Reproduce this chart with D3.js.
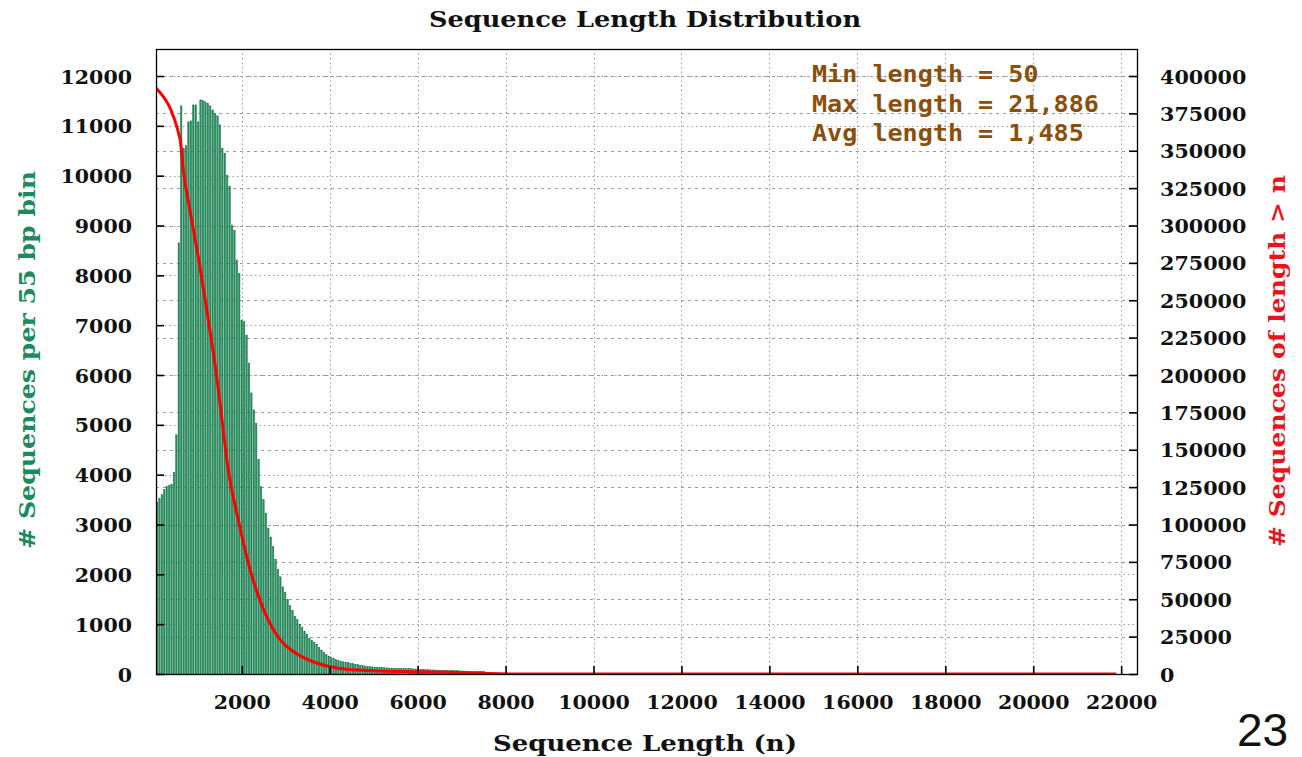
<!DOCTYPE html>
<html>
<head>
<meta charset="utf-8">
<script src="https://cdnjs.cloudflare.com/ajax/libs/d3/7.8.5/d3.min.js"></script>
<style>
  html, body { margin: 0; padding: 0; background: #ffffff; }
  svg { display: block; }
</style>
</head>
<body>
<svg id="chart" width="1302" height="757"></svg>
<script>
// Histogram: sequence counts per 55 bp bin, first bin starts at length 50
const binStart = 50;
const binWidth = 55;
const binCounts = [
  3450, 3520, 3600, 3700, 3760, 3780, 3800, 4050, 4800, 8650,
  11400, 10550, 10600, 11080, 11100, 11420, 11420, 11080, 11520, 11510,
  11480, 11450, 11400, 11320, 11250, 11200, 11020, 10550, 10450, 10010,
  9780, 9010, 8900, 8310, 8040, 7100, 7070, 6800, 6240, 5640,
  5300, 5030, 4300, 3760, 3500, 3230, 2930, 2750, 2555, 2300,
  2100, 1950, 1750, 1640, 1490, 1370, 1280, 1160, 1090, 1000,
  940, 850, 800, 720, 680, 640, 600, 530, 480, 440,
  390, 360, 330, 310, 290, 270, 250, 245, 238, 228,
  215, 206, 195, 186, 176, 168, 160, 154, 148, 142,
  138, 134, 131, 128, 126, 122, 120, 118, 117, 115,
  113, 116, 110, 106, 107, 105, 103, 100, 97, 95,
  92, 89, 86, 84, 82, 80, 78, 76, 74, 72,
  70, 69, 68, 66, 65, 64, 62, 60, 58, 56,
  54, 50, 55, 58, 52, 45, 36, 28, 20, 14,
  10, 8, 6, 5, 4, 3
];

// Cumulative curve: number of sequences longer than n
const remainingLength = [50, 596, 671, 823, 1051, 1239, 1430, 1506, 1694, 1922,
  2188, 2604, 2945, 3250, 3621, 4007, 4387, 5144, 5895, 6661, 7419, 8330, 21886];
const remainingCount = [392000, 358000, 337000, 310000, 272000, 237000, 199000, 181000, 136500, 103000,
  70000, 36000, 20500, 13500, 8200, 4900, 3100, 2000, 1500, 1100, 500, 0, 0];

// Axis ticks
const xTicks = [2000, 4000, 6000, 8000, 10000, 12000, 14000, 16000, 18000, 20000, 22000];
const leftTicks = [0, 1000, 2000, 3000, 4000, 5000, 6000, 7000, 8000, 9000, 10000, 11000, 12000];
const rightTicks = [0, 25000, 50000, 75000, 100000, 125000, 150000, 175000, 200000,
  225000, 250000, 275000, 300000, 325000, 350000, 375000, 400000];

// Summary statistics shown in the corner box
const statLines = ["Min length = 50", "Max length = 21,886", "Avg length = 1,485"];

const chartTitle = "Sequence Length Distribution";
const xTitle = "Sequence Length (n)";
const leftTitle = "# Sequences per 55 bp bin";
const rightTitle = "# Sequences of length > n";
const pageNumber = "23";

// ---------------------------------------------------------------
const svg = d3.select("#chart");
const plot = { left: 156, right: 1137, top: 49, bottom: 674 };

const x = d3.scaleLinear().domain([50, 22360]).range([plot.left, plot.right]);
const yL = d3.scaleLinear().domain([0, 12000]).range([plot.bottom, 76]);
const yR = d3.scaleLinear().domain([0, 400000]).range([plot.bottom, 76]);

const serif = "'DejaVu Serif', 'Liberation Serif', serif";
const mono = "'DejaVu Sans Mono', 'Liberation Mono', monospace";

svg.append("defs").append("clipPath").attr("id", "plotClip")
  .append("rect")
  .attr("x", plot.left).attr("y", plot.top)
  .attr("width", plot.right - plot.left).attr("height", plot.bottom - plot.top);

// Grid lines
const grid = svg.append("g").attr("class", "grid")
  .attr("stroke", "#9a9a9a").attr("stroke-width", 1).attr("fill", "none");

grid.selectAll("line.gl").data(leftTicks.slice(1)).join("line")
  .attr("class", "gl")
  .attr("x1", plot.left).attr("x2", plot.right)
  .attr("y1", d => Math.round(yL(d)) + 0.5).attr("y2", d => Math.round(yL(d)) + 0.5)
  .attr("stroke-dasharray", "1.5,3");

grid.selectAll("line.gr").data(rightTicks.slice(1)).join("line")
  .attr("class", "gr")
  .attr("x1", plot.left).attr("x2", plot.right)
  .attr("y1", d => Math.round(yR(d)) + 0.5).attr("y2", d => Math.round(yR(d)) + 0.5)
  .attr("stroke-dasharray", "3,4");

grid.selectAll("line.gx").data(xTicks).join("line")
  .attr("class", "gx")
  .attr("x1", d => Math.round(x(d)) + 0.5).attr("x2", d => Math.round(x(d)) + 0.5)
  .attr("y1", plot.top).attr("y2", plot.bottom)
  .attr("stroke-dasharray", "1.5,3");

// Histogram bars
const bins = binCounts.map((c, i) => ({ x0: binStart + i * binWidth, x1: binStart + (i + 1) * binWidth, count: c }));
svg.append("g").attr("clip-path", "url(#plotClip)")
  .selectAll("rect").data(bins).join("rect")
  .attr("x", d => x(d.x0) + 0.3)
  .attr("width", d => Math.max(0.5, (x(d.x1) - x(d.x0)) * 0.6))
  .attr("y", d => yL(d.count))
  .attr("height", d => plot.bottom - yL(d.count))
  .attr("fill", "#22935f")
  .attr("stroke", "#0e6a3e")
  .attr("stroke-width", 0.45);

// Cumulative line
const remaining = remainingLength.map((n, i) => ({ n, count: remainingCount[i] }));
svg.append("path")
  .datum(remaining)
  .attr("clip-path", "url(#plotClip)")
  .attr("fill", "none")
  .attr("stroke", "#ff0000")
  .attr("stroke-width", 3)
  .attr("stroke-linejoin", "round")
  .attr("d", d3.line().x(d => x(d.n)).y(d => yR(d.count)).curve(d3.curveMonotoneX));

// Frame
svg.append("rect")
  .attr("x", plot.left + 0.5).attr("y", plot.top + 0.5)
  .attr("width", plot.right - plot.left).attr("height", plot.bottom - plot.top)
  .attr("fill", "none").attr("stroke", "#000").attr("stroke-width", 1.3);

// Axes (ticks point inward)
function styleAxis(g) {
  g.select(".domain").remove();
  g.selectAll(".tick line").attr("stroke", "#000").attr("stroke-width", 1.6);
  g.selectAll(".tick text")
    .attr("fill", "#111")
    .style("font-family", serif)
    .style("font-weight", "bold")
    .style("font-size", "19px")
    .attr("lengthAdjust", "spacingAndGlyphs");
}

const pitch = 14.3;

const leftAxis = svg.append("g")
  .attr("transform", `translate(${plot.left},0)`)
  .call(d3.axisLeft(yL).tickValues(leftTicks).tickSizeInner(-8).tickSizeOuter(0).tickPadding(24).tickFormat(d3.format("d")))
  .call(styleAxis);
leftAxis.selectAll(".tick text")
  .attr("text-anchor", "start")
  .attr("dy", null).attr("y", 7)
  .attr("x", function(d) { return -24 - String(d).length * pitch; })
  .attr("textLength", d => String(d).length * pitch);

const rightAxis = svg.append("g")
  .attr("transform", `translate(${plot.right},0)`)
  .call(d3.axisRight(yR).tickValues(rightTicks).tickSizeInner(-8).tickSizeOuter(0).tickPadding(23).tickFormat(d3.format("d")))
  .call(styleAxis);
rightAxis.selectAll(".tick text")
  .attr("text-anchor", "start")
  .attr("dy", null).attr("y", 7)
  .attr("textLength", d => String(d).length * 14.4);

const bottomAxis = svg.append("g")
  .attr("transform", `translate(0,${plot.bottom})`)
  .call(d3.axisBottom(x).tickValues(xTicks).tickSizeInner(-8).tickSizeOuter(0).tickPadding(0).tickFormat(d3.format("d")))
  .call(styleAxis);
bottomAxis.selectAll(".tick text")
  .attr("text-anchor", "start")
  .attr("dy", null).attr("y", 35)
  .attr("x", d => -String(d).length * pitch / 2)
  .attr("textLength", d => String(d).length * pitch);

// Titles
function stretchedText(parent, str, opts) {
  return parent.append("text")
    .attr("x", opts.x).attr("y", opts.y)
    .attr("text-anchor", "middle")
    .attr("textLength", opts.len)
    .attr("lengthAdjust", "spacingAndGlyphs")
    .attr("fill", opts.fill || "#111")
    .attr("transform", opts.transform || null)
    .style("font-family", opts.family || serif)
    .style("font-weight", "bold")
    .style("font-size", opts.size + "px")
    .text(str);
}

stretchedText(svg, chartTitle, { x: 645, y: 27, len: 432, size: 22 });
stretchedText(svg, xTitle, { x: 645, y: 751, len: 304, size: 22 });
stretchedText(svg, leftTitle, { x: 0, y: 0, len: 378, size: 23, fill: "#1b8a5c",
  transform: "translate(35,360) rotate(-90)" });
stretchedText(svg, rightTitle, { x: 0, y: 0, len: 372, size: 23, fill: "#e8141c",
  transform: "translate(1285,361) rotate(-90)" });

// Summary statistics
const statBaselines = [81.5, 111.5, 140.5];
statLines.forEach((s, i) => {
  svg.append("text")
    .attr("x", 812).attr("y", statBaselines[i])
    .attr("textLength", s.length * 15.1)
    .attr("lengthAdjust", "spacingAndGlyphs")
    .attr("fill", "#8b4e0b")
    .style("font-family", mono)
    .style("font-weight", "bold")
    .style("font-size", "23px")
    .text(s);
});

// Page number
svg.append("text")
  .attr("x", 1237).attr("y", 746)
  .attr("fill", "#111")
  .style("font-family", "'Liberation Sans', Arial, sans-serif")
  .style("font-size", "46px")
  .text(pageNumber);
</script>
</body>
</html>
